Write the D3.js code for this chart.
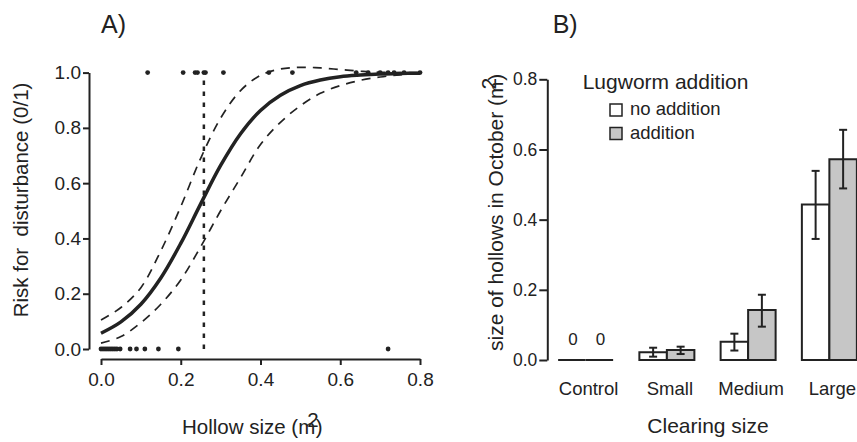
<!DOCTYPE html>
<html>
<head>
<meta charset="utf-8">
<script src="https://cdn.jsdelivr.net/npm/d3@7"></script>
<style>
  body { margin: 0; background: #fff; }
  svg { display: block; font-family: "Liberation Sans", Arial, sans-serif; }
  .axis path, .axis line { stroke: #222; stroke-width: 2; }
  .axis text { fill: #222; }
</style>
</head>
<body>
<svg id="chart" width="857" height="442"></svg>
<script>
// ---- panel A data: logistic fit of disturbance risk vs hollow size ----
var curveX     = [0, 0.05, 0.1, 0.15, 0.2, 0.25, 0.3, 0.35, 0.4, 0.45, 0.5, 0.55, 0.6, 0.65, 0.7, 0.75, 0.8];
var fitRisk    = [0.057, 0.098, 0.162, 0.257, 0.382, 0.525, 0.664, 0.779, 0.863, 0.918, 0.953, 0.973, 0.985, 0.991, 0.995, 0.997, 0.998];
var upperRisk  = [0.105, 0.150, 0.222, 0.355, 0.515, 0.690, 0.835, 0.935, 0.990, 1.013, 1.019, 1.017, 1.011, 1.005, 1.001, 1.000, 1.000];
var lowerRisk  = [0.021, 0.045, 0.095, 0.162, 0.250, 0.370, 0.500, 0.620, 0.740, 0.820, 0.880, 0.925, 0.953, 0.972, 0.984, 0.992, 0.997];
var disturbedX   = [0.117, 0.206, 0.236, 0.242, 0.258, 0.262, 0.307, 0.421, 0.48, 0.64, 0.67, 0.70, 0.72, 0.735, 0.76, 0.80];
var undisturbedX = [0, 0.005, 0.01, 0.015, 0.02, 0.025, 0.03, 0.035, 0.04, 0.048, 0.073, 0.089, 0.11, 0.144, 0.194, 0.72];
var thresholdX = 0.258;
var xTicksA = [0, 0.2, 0.4, 0.6, 0.8];
var yTicksA = [0, 0.2, 0.4, 0.6, 0.8, 1.0];

// ---- panel B data: hollow size by clearing size and lugworm addition ----
var clearings = ["Control", "Small", "Medium", "Large"];
var treatments = ["no addition", "addition"];
var meanNoAdd = [0, 0.022, 0.052, 0.443];
var meanAdd   = [0, 0.0285, 0.1425, 0.572];
var errNoAdd  = [null, [0.0095, 0.035], [0.027, 0.075], [0.345, 0.539]];
var errAdd    = [null, [0.017, 0.038], [0.095, 0.186], [0.489, 0.656]];
var yTicksB = [0, 0.2, 0.4, 0.6, 0.8];

var svg = d3.select("#chart");
var gray = "#c6c6c6";
var ink = "#222";

// ================= Panel A =================
var xA = d3.scaleLinear().domain([0, 0.8]).range([101, 420]);
var yA = d3.scaleLinear().domain([0, 1]).range([349, 72.6]);

svg.append("g")
  .attr("class", "axis")
  .attr("transform", "translate(89,0)")
  .call(d3.axisLeft(yA).tickValues(yTicksA).tickFormat(d3.format(".1f")).tickSize(6).tickSizeOuter(0).tickPadding(2))
  .selectAll("text").style("font-size", "19px");

svg.append("g")
  .attr("class", "axis")
  .attr("transform", "translate(0,359)")
  .call(d3.axisBottom(xA).tickValues(xTicksA).tickFormat(d3.format(".1f")).tickSize(6).tickSizeOuter(0).tickPadding(8))
  .selectAll("text").style("font-size", "19px");

// threshold line
svg.append("line")
  .attr("x1", xA(thresholdX)).attr("x2", xA(thresholdX))
  .attr("y1", yA(0)).attr("y2", yA(1))
  .attr("stroke", ink).attr("stroke-width", 2.5)
  .attr("stroke-dasharray", "4.5,6.5");

var line = function(vals) {
  return d3.line()
    .x(function(d, i) { return xA(curveX[i]); })
    .y(function(d) { return yA(d); })
    .curve(d3.curveCatmullRom)(vals);
};

svg.append("path").attr("d", line(upperRisk))
  .attr("fill", "none").attr("stroke", ink).attr("stroke-width", 1.7).attr("stroke-dasharray", "9,7");
svg.append("path").attr("d", line(lowerRisk))
  .attr("fill", "none").attr("stroke", ink).attr("stroke-width", 1.7).attr("stroke-dasharray", "9,7");
svg.append("path").attr("d", line(fitRisk))
  .attr("fill", "none").attr("stroke", ink).attr("stroke-width", 3.5);

svg.append("g").selectAll("circle.d1")
  .data(disturbedX).enter().append("circle")
  .attr("cx", function(d) { return xA(d); })
  .attr("cy", yA(1))
  .attr("r", 2.4).attr("fill", ink);

svg.append("g").selectAll("circle.d0")
  .data(undisturbedX).enter().append("circle")
  .attr("cx", function(d) { return xA(d); })
  .attr("cy", yA(0))
  .attr("r", 2.4).attr("fill", ink);

svg.append("text").attr("x", 101).attr("y", 33)
  .style("font-size", "25px").attr("fill", ink).text("A)");

var xtA = svg.append("text").attr("x", 182).attr("y", 434)
  .style("font-size", "20.5px").attr("fill", ink);
xtA.append("tspan").text("Hollow size (m");
xtA.append("tspan").attr("dx", -8).attr("dy", -7).text("2");
xtA.append("tspan").attr("dx", -3).attr("dy", 7).text(")");

svg.append("text")
  .attr("transform", "translate(27.5,200) rotate(-90)")
  .attr("text-anchor", "middle")
  .style("font-size", "20.5px").style("white-space", "pre")
  .attr("fill", ink)
  .text("Risk for  disturbance (0/1)");

// ================= Panel B =================
var x0 = d3.scaleBand().domain(clearings).range([545, 870]).paddingInner(0.323).paddingOuter(0.1615);
var x1 = d3.scaleBand().domain(treatments).range([0, x0.bandwidth()]);
var yB = d3.scaleLinear().domain([0, 0.8]).range([360, 79.3]);

svg.append("g")
  .attr("class", "axis")
  .attr("transform", "translate(547.3,0)")
  .call(d3.axisLeft(yB).tickValues(yTicksB).tickFormat(d3.format(".1f")).tickSize(8).tickSizeOuter(0).tickPadding(2))
  .selectAll("text").style("font-size", "17.5px");

var rows = clearings.map(function(c, i) {
  return [
    { cat: c, t: "no addition", v: meanNoAdd[i], e: errNoAdd[i] },
    { cat: c, t: "addition", v: meanAdd[i], e: errAdd[i] }
  ];
});

var groups = svg.append("g").selectAll("g")
  .data(rows).enter().append("g")
  .attr("transform", function(d) { return "translate(" + x0(d[0].cat) + ",0)"; });

// bars as closed paths so that zero-height bars still show their outline
groups.selectAll("path.bar")
  .data(function(d) { return d; }).enter().append("path")
  .attr("class", "bar")
  .attr("d", function(d) {
    var p = d3.path();
    p.rect(x1(d.t), yB(d.v), x1.bandwidth(), yB(0) - yB(d.v));
    return p.toString();
  })
  .attr("fill", function(d) { return d.t === "addition" ? gray : "#fff"; })
  .attr("stroke", ink).attr("stroke-width", 2);

var eb = groups.selectAll("g.err")
  .data(function(d) { return d.filter(function(r) { return r.e; }); }).enter().append("g")
  .attr("transform", function(d) { return "translate(" + (x1(d.t) + x1.bandwidth() / 2) + ",0)"; })
  .attr("stroke", ink).attr("stroke-width", 2);
eb.append("line").attr("x1", 0).attr("x2", 0)
  .attr("y1", function(d) { return yB(d.e[0]); }).attr("y2", function(d) { return yB(d.e[1]); });
eb.append("line").attr("x1", -4).attr("x2", 4)
  .attr("y1", function(d) { return yB(d.e[0]); }).attr("y2", function(d) { return yB(d.e[0]); });
eb.append("line").attr("x1", -4).attr("x2", 4)
  .attr("y1", function(d) { return yB(d.e[1]); }).attr("y2", function(d) { return yB(d.e[1]); });

// zero labels for empty bars
groups.selectAll("text.zero")
  .data(function(d) { return d.filter(function(r) { return r.v === 0; }); }).enter().append("text")
  .attr("x", function(d) { return x1(d.t) + x1.bandwidth() / 2 + 1; })
  .attr("y", yB(0) - 15)
  .attr("text-anchor", "middle")
  .style("font-size", "17px").attr("fill", ink)
  .text("0");

// category labels
svg.append("g").selectAll("text")
  .data(clearings).enter().append("text")
  .attr("x", function(d) { return x0(d) + x0.bandwidth() / 2 + 3; })
  .attr("y", 395)
  .attr("text-anchor", "middle")
  .style("font-size", "18.5px").attr("fill", ink)
  .text(function(d) { return d; });

svg.append("text").attr("x", 708).attr("y", 433)
  .attr("text-anchor", "middle")
  .style("font-size", "21px").attr("fill", ink)
  .text("Clearing size");

var ytB = svg.append("text")
  .attr("transform", "translate(503,351) rotate(-90)")
  .style("font-size", "21px").attr("fill", ink);
ytB.append("tspan").text("size of hollows in October (m");
ytB.append("tspan").attr("dx", -8).attr("dy", -7).text("2");
ytB.append("tspan").attr("dx", -3).attr("dy", 7).text(")");

svg.append("text").attr("x", 552.7).attr("y", 33)
  .style("font-size", "25px").attr("fill", ink).text("B)");

// legend
var legend = svg.append("g");
legend.append("text").attr("x", 582.7).attr("y", 88.5)
  .style("font-size", "21px").attr("fill", ink).text("Lugworm addition");
var li = legend.selectAll("g.item")
  .data(treatments).enter().append("g")
  .attr("transform", function(d, i) { return "translate(610," + (104 + i * 23.5) + ")"; });
li.append("rect").attr("width", 12).attr("height", 12)
  .attr("fill", function(d) { return d === "addition" ? gray : "#fff"; })
  .attr("stroke", ink).attr("stroke-width", 1.5);
li.append("text").attr("x", 20).attr("y", 11)
  .style("font-size", "18.5px").attr("fill", ink)
  .text(function(d) { return d; });
</script>
</body>
</html>
